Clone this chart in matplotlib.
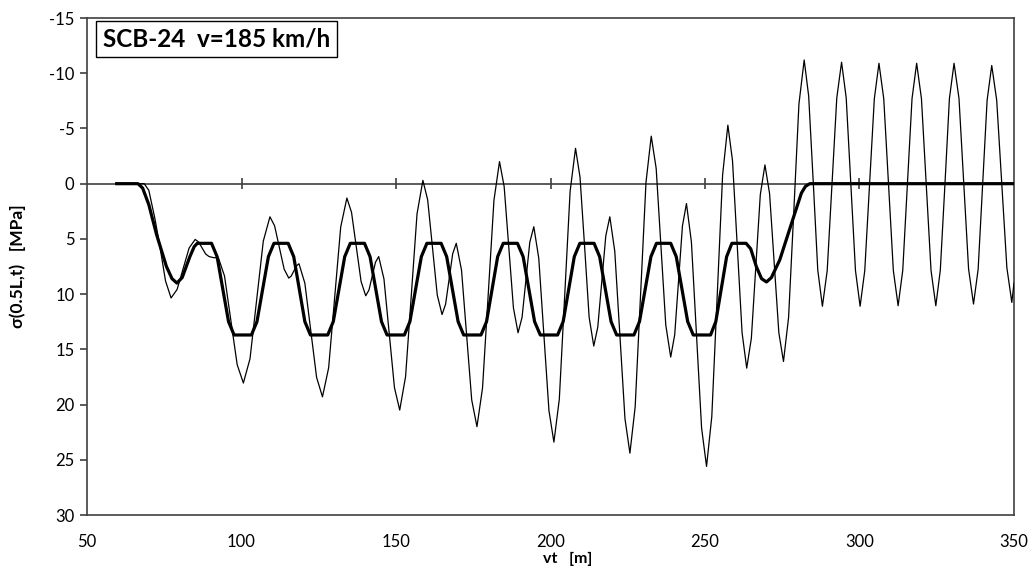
import matplotlib
matplotlib.use("Agg")
import matplotlib.pyplot as plt

plt.rcParams["font.family"] = ["Lato", "DejaVu Sans"]

# dynamic stress (thin line)
dyn_x = [59.6, 68.5, 70.0, 72.0, 73.6, 75.4, 77.2,
         79.15, 81.1, 83.05, 85.0, 86.1, 87.25, 88.4, 89.5, 91.0, 92.5,
         94.5, 96.55, 98.6, 100.6, 102.75, 104.9, 107.05, 109.2,
         110.7, 112.25, 113.8, 115.3, 116.1, 116.95, 117.8, 118.6,
         120.5, 122.4, 124.3, 126.2, 128.2, 130.15, 132.1, 134.1,
         135.6, 137.15, 138.7, 140.2, 141.25, 142.3, 143.35, 144.4,
         146.1, 147.8, 149.5, 151.2, 153.1, 154.95, 156.8, 158.7,
         160.25, 161.8, 163.35, 164.9, 166.05, 167.2, 168.35, 169.5,
         171.2, 172.85, 174.5, 176.2, 178.0, 179.85, 181.7, 183.5,
         185.0, 186.5, 188.0, 189.5, 190.8, 192.05, 193.3, 194.6,
         196.2, 197.85, 199.5, 201.1, 202.85, 204.6, 206.35, 208.1,
         209.55, 211.05, 212.5, 214.0, 215.3, 216.6, 217.9, 219.2,
         220.8, 222.45, 224.1, 225.7, 227.4, 229.15, 230.9, 232.6,
         234.2, 235.75, 237.3, 238.9, 240.2, 241.45, 242.7, 244.0,
         245.6, 247.25, 248.9, 250.5, 252.2, 253.95, 255.7, 257.4,
         258.9, 260.45, 262.0, 263.5, 265.0, 266.45, 267.9, 269.4,
         270.9, 272.4, 273.9, 275.4, 277.05, 278.75, 280.4, 282.1,
         283.55, 285.05, 286.5, 288.0, 289.55, 291.1, 292.65, 294.2,
         295.7, 297.2, 298.7, 300.2, 301.7, 303.25, 304.8, 306.3,
         307.85, 309.4, 310.95, 312.5, 314.0, 315.5, 317.0, 318.5,
         320.05, 321.6, 323.15, 324.7, 326.15, 327.65, 329.1, 330.6,
         332.2, 333.75, 335.3, 336.9, 338.4, 339.85, 341.3, 342.8,
         344.4, 346.05, 347.7, 349.3, 350.0]
dyn_y = [0, 0, 0.6, 3.2, 5.7, 8.8, 10.35,
         9.58, 7.70, 5.82, 5.05, 5.28, 5.83, 6.37, 6.6, 6.7, 6.7,
         8.36, 12.38, 16.39, 18.05, 15.85, 10.53, 5.20, 3.0,
         3.81, 5.78, 7.74, 8.55, 8.36, 7.9, 7.44, 7.25,
         9.01, 13.28, 17.54, 19.3, 16.67, 10.3, 3.93, 1.3,
         2.59, 5.73, 8.86, 10.15, 9.63, 8.38, 7.12, 6.6,
         8.63, 13.55, 18.47, 20.5, 17.46, 10.1, 2.74, -0.3,
         1.47, 5.78, 10.08, 11.85, 10.91, 8.63, 6.34, 5.4,
         7.82, 13.7, 19.58, 22.0, 18.5, 10.0, 1.5, -2.0,
         0.26, 5.75, 11.24, 13.5, 12.1, 8.7, 5.3, 3.9,
         6.75, 13.65, 20.55, 23.4, 19.52, 10.1, 0.68, -3.2,
         -0.59, 5.75, 12.09, 14.7, 12.99, 8.85, 4.71, 3.0,
         6.12, 13.7, 21.28, 24.4, 20.21, 10.05, -0.11, -4.3,
         -1.38, 5.7, 12.78, 15.7, 13.67, 8.75, 3.83, 1.8,
         5.27, 13.7, 22.13, 25.6, 21.09, 10.15, -0.79, -5.3,
         -2.09, 5.7, 13.49, 16.7, 14.01, 7.5, 0.99, -1.7,
         0.9, 7.2, 13.5, 16.1, 12.11, 2.45, -7.21, -11.2,
         -7.94, -0.05, 7.84, 11.1, 7.87, 0.05, -7.77, -11.0,
         -7.77, 0.05, 7.87, 11.1, 7.89, 0.1, -7.69, -10.9,
         -7.7, 0.08, 7.85, 11.05, 7.85, 0.08, -7.7, -10.9,
         -7.7, 0.08, 7.85, 11.05, 7.85, 0.08, -7.7, -10.9,
         -7.72, 0.0, 7.72, 10.9, 7.75, 0.1, -7.55, -10.7,
         -7.57, 0.03, 7.62, 10.75, 9.0]

# static stress (thick line)
stat_x = [59.6, 66.5, 68.0, 70.0, 72.5, 75.7, 77.5, 79.1, 80.8, 83.3, 84.7,
          85.7, 90.3, 92.1, 93.95, 95.8, 97.6,
          103.2, 105.0, 106.85, 108.7, 110.5,
          115.1, 116.9, 118.7, 120.5, 122.3,
          127.9, 129.7, 131.55, 133.4, 135.2,
          139.8, 141.6, 143.45, 145.3, 147.1,
          152.7, 154.5, 156.35, 158.2, 160.0,
          164.6, 166.4, 168.25, 170.1, 171.9,
          177.5, 179.3, 181.1, 182.9, 184.7,
          189.3, 191.15, 193.0, 194.85, 196.7,
          202.3, 204.1, 205.9, 207.7, 209.5,
          214.1, 215.9, 217.75, 219.6, 221.4,
          227.0, 228.8, 230.65, 232.5, 234.3,
          238.9, 240.7, 242.55, 244.4, 246.2,
          251.8, 253.5, 255.25, 257.0, 258.7,
          263.3, 264.8, 266.6, 268.3, 269.9, 271.5, 274.2, 278.0, 281.2,
          282.5, 283.9, 350.0]
stat_y = [0, 0, 0.4, 1.9, 4.6, 7.5, 8.6, 9.0, 8.5, 6.6, 5.7,
          5.4, 5.4, 6.61, 9.55, 12.49, 13.7,
          13.7, 12.49, 9.55, 6.61, 5.4,
          5.4, 6.61, 9.55, 12.49, 13.7,
          13.7, 12.49, 9.55, 6.61, 5.4,
          5.4, 6.61, 9.55, 12.49, 13.7,
          13.7, 12.49, 9.55, 6.61, 5.4,
          5.4, 6.61, 9.55, 12.49, 13.7,
          13.7, 12.49, 9.55, 6.61, 5.4,
          5.4, 6.61, 9.55, 12.49, 13.7,
          13.7, 12.49, 9.55, 6.61, 5.4,
          5.4, 6.61, 9.55, 12.49, 13.7,
          13.7, 12.49, 9.55, 6.61, 5.4,
          5.4, 6.61, 9.55, 12.49, 13.7,
          13.7, 12.49, 9.55, 6.61, 5.4,
          5.4, 5.9, 7.5, 8.6, 8.9, 8.5, 6.9, 3.6, 0.85,
          0.25, 0, 0]

x_ticks = [50, 100, 150, 200, 250, 300, 350]
zero_ticks = [100, 150, 200, 250, 300]
y_ticks = [-15, -10, -5, 0, 5, 10, 15, 20, 25, 30]
title = "SCB-24  v=185 km/h"

fig = plt.figure(figsize=(10.31, 5.68), dpi=100)
ax = fig.add_axes([0.0844, 0.0933, 0.8991, 0.875])

axis_col = "#404040"
# x axis crosses at zero, tick marks sit on that line
ax.axhline(0, color=axis_col, lw=1.2, zorder=1)
ax.vlines(zero_ticks, -0.5, 0.5, color=axis_col, lw=1.2, zorder=1)

ax.plot(stat_x, stat_y, color="black", lw=2.3, solid_joinstyle="round", zorder=3)
ax.plot(dyn_x, dyn_y, color="black", lw=0.9, zorder=4)

ax.set_xlim(50, 350)
ax.set_ylim(30, -15)
ax.set_xticks(x_ticks)
ax.set_yticks(y_ticks)
ax.set_yticklabels([str(v) for v in y_ticks])

for s in ax.spines.values():
    s.set_color(axis_col)
    s.set_linewidth(1.2)

ax.tick_params(axis="y", direction="out", length=5, width=1.2, color=axis_col,
               labelsize=12, pad=4)
ax.tick_params(axis="x", length=0, labelsize=12, pad=14)

ax.set_ylabel("σ(0.5L,t)   [MPa]", fontsize=12.5, fontweight="bold")
ax.yaxis.set_label_coords(-0.066, 0.5)
ax.set_xlabel("vt   [m]", fontsize=11.5, fontweight="bold")
ax.xaxis.label.set_va("bottom")
ax.xaxis.set_label_coords(0.518, -0.102)

ax.text(0.0175, 0.958, title, transform=ax.transAxes, fontsize=17.5,
        fontweight="bold", va="center", ha="left",
        bbox=dict(boxstyle="square,pad=0.28", facecolor="white",
                  edgecolor="black", linewidth=1.0))

fig.savefig("out.png", dpi=100)
